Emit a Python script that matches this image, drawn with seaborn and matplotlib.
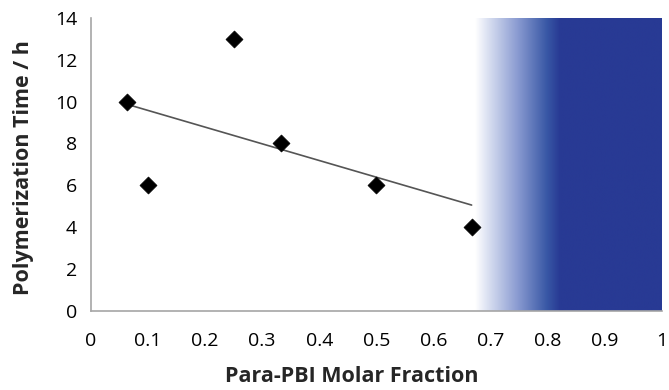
import numpy as np
import pandas as pd
import matplotlib
matplotlib.use("Agg")
import matplotlib.pyplot as plt
from matplotlib.colors import LinearSegmentedColormap
import seaborn as sns

# Measured samples
molar_fraction = [0.0625, 0.1, 0.25, 0.333, 0.5, 0.667]
poly_time_h = [10, 6, 13, 8, 6, 4]

# Shaded composition window (no polymer obtained)
shade_start = 0.6725
shade_solid = 0.821
shade_end = 1.0

x_ticks = [0, 0.1, 0.2, 0.3, 0.4, 0.5, 0.6, 0.7, 0.8, 0.9, 1]
x_tick_labels = ["0", "0.1", "0.2", "0.3", "0.4", "0.5", "0.6", "0.7", "0.8", "0.9", "1"]
y_ticks = [0, 2, 4, 6, 8, 10, 12, 14]

df = pd.DataFrame({"x": molar_fraction, "y": poly_time_h})

sns.set_theme(style="white")
plt.rcParams["font.family"] = ["Open Sans", "DejaVu Sans"]

fig = plt.figure(figsize=(6.69, 3.90), dpi=100)
ax = fig.add_axes([0.136, 0.203, 0.853, 0.751])

# Horizontal gradient from white to navy
navy = "#283a94"
frac_solid = (shade_solid - shade_start) / (shade_end - shade_start)
cmap = LinearSegmentedColormap.from_list(
    "shade",
    [(0.0, "#ffffff"), (0.08, "#d4dbef"), (frac_solid * 0.5, "#8a9bd1"),
     (frac_solid * 0.85, "#3857a5"), (frac_solid, navy), (1.0, navy)],
)
grad = np.linspace(0, 1, 512).reshape(1, -1)
ax.imshow(grad, cmap=cmap, aspect="auto",
          extent=[shade_start, shade_end, 0, 14], zorder=0, interpolation="bilinear")

# Linear trend line
sns.regplot(data=df, x="x", y="y", ax=ax, scatter=False, ci=None, truncate=True,
            line_kws={"color": "#555555", "linewidth": 1.2, "zorder": 2})

# Data points
sns.scatterplot(data=df, x="x", y="y", ax=ax, marker="D", s=75, color="black",
                edgecolor="black", linewidth=0.5, zorder=3, legend=False)

ax.set_xlim(0, 1)
ax.set_ylim(0, 14)
ax.set_xticks(x_ticks)
ax.set_xticklabels(x_tick_labels)
ax.set_yticks(y_ticks)

for side in ["top", "right"]:
    ax.spines[side].set_visible(False)
for side in ["left", "bottom"]:
    ax.spines[side].set_color("#a6a6a6")
    ax.spines[side].set_linewidth(1.2)

ax.tick_params(axis="both", which="major", direction="out", length=6, width=1,
               color="#a6a6a6", labelsize=14, labelcolor="black", pad=4)
ax.tick_params(axis="x", pad=9)

ax.set_xlabel("Para-PBI Molar Fraction", fontsize=15.5, fontweight="bold")
ax.set_ylabel("Polymerization Time / h", fontsize=15.5, fontweight="bold")
ax.xaxis.set_label_coords(0.457, -0.19)
ax.yaxis.set_label_coords(-0.10, 0.49)

fig.savefig("out.png", dpi=100)
